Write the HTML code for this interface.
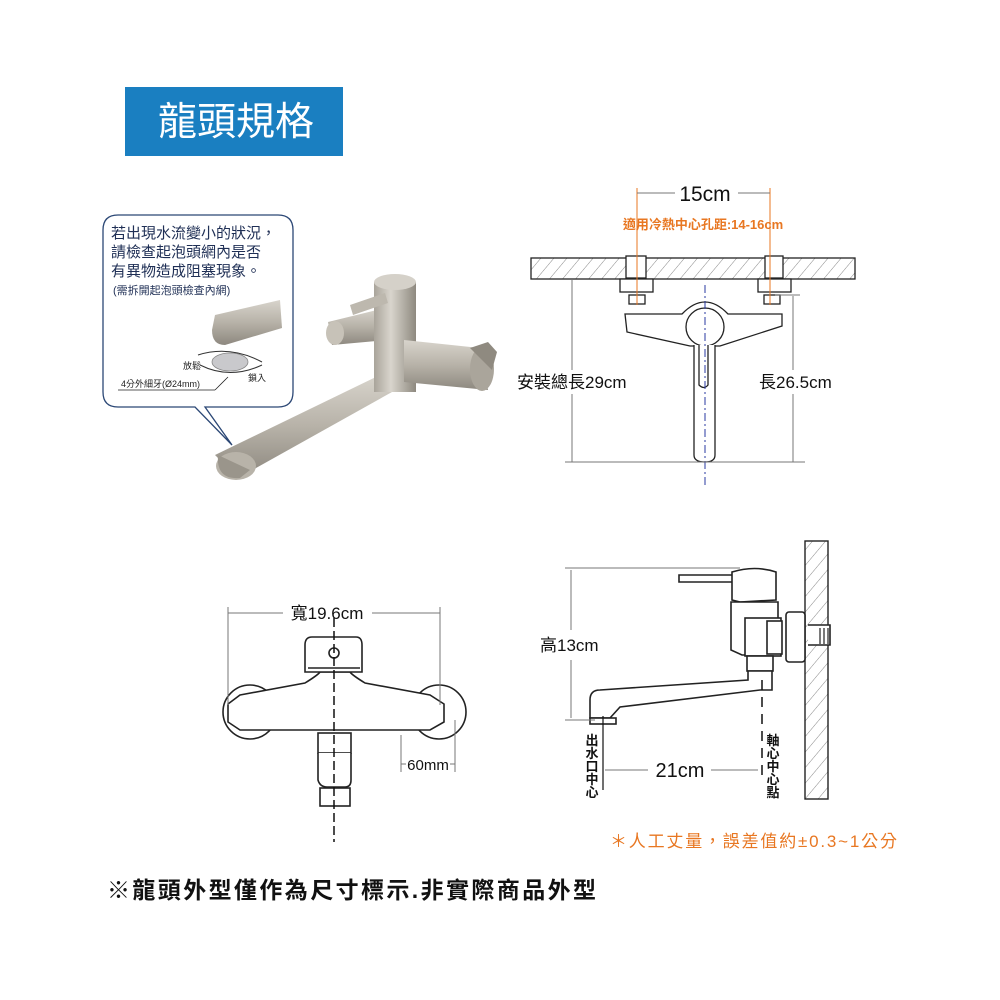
<!DOCTYPE html>
<html><head><meta charset="utf-8"><style>
html,body{margin:0;padding:0;background:#fff;}
svg{display:block;}
text{font-family:"Liberation Sans","Noto Sans CJK TC",sans-serif;}
</style></head><body>
<svg width="1000" height="1000" viewBox="0 0 1000 1000" xmlns="http://www.w3.org/2000/svg">
<defs>
<pattern id="h" width="10" height="10" patternUnits="userSpaceOnUse" patternTransform="rotate(40)">
<line x1="0" y1="0" x2="0" y2="10" stroke="#888" stroke-width="1"/></pattern>
<linearGradient id="m" x1="0" y1="0" x2="0" y2="1"><stop offset="0" stop-color="#d8d4cc"/><stop offset="0.5" stop-color="#b7b2a8"/><stop offset="1" stop-color="#8d887f"/></linearGradient>
<linearGradient id="mv" x1="0" y1="0" x2="1" y2="0"><stop offset="0" stop-color="#a9a49a"/><stop offset="0.4" stop-color="#d9d5cd"/><stop offset="1" stop-color="#8e897f"/></linearGradient>
</defs>
<rect x="125" y="87" width="218" height="69" fill="#1a7fc1"/>
<text x="236" y="135" font-size="39" fill="#fff" text-anchor="middle">龍頭規格</text>

<path d="M215 455 L380 375 L392 392 L238 478 Z" fill="url(#m)"/>
<ellipse cx="236" cy="466" rx="20" ry="14" fill="#b8b3a9"/>
<path d="M218 455 Q216 480 240 478 L250 470 Z" fill="#9a958b"/>
<path d="M328 322 L385 308 L388 340 L332 345 Z" fill="url(#m)"/>
<ellipse cx="335" cy="333" rx="9" ry="12" fill="#c7c2b8"/>
<rect x="374" y="282" width="42" height="110" fill="url(#mv)"/>
<ellipse cx="395" cy="282" rx="21" ry="8" fill="#d5d1c9"/>
<path d="M350 305 L385 293 L388 303 L353 315 Z" fill="#bdb8ae"/>
<path d="M404 340 L480 348 L488 390 L404 382 Z" fill="url(#m)"/>
<ellipse cx="482" cy="369" rx="12" ry="22" fill="#aaa59b"/>
<path d="M470 348 L488 342 L497 352 L492 370 Z" fill="#8f8a80"/>

<path d="M118 215 H278 Q293 215 293 230 V392 Q293 407 278 407 H205 L232 445 L195 407 H118 Q103 407 103 392 V230 Q103 215 118 215 Z" fill="#fff" stroke="#2b4775" stroke-width="1.3"/>
<text x="111" y="238" font-size="15" fill="#1f2f55">若出現水流變小的狀況，</text>
<text x="111" y="257" font-size="15" fill="#1f2f55">請檢查起泡頭網內是否</text>
<text x="111" y="276" font-size="15" fill="#1f2f55">有異物造成阻塞現象。</text>
<text x="113" y="294" font-size="11" fill="#1f2f55">(需拆開起泡頭檢查內網)</text>
<path d="M215 315 L280 300 L282 328 L225 345 Q212 345 212 330 Z" fill="url(#m)"/>
<ellipse cx="230" cy="362" rx="18" ry="9" fill="#c9c9cc" stroke="#888" stroke-width="0.8"/>
<path d="M198 355 Q230 345 262 362" fill="none" stroke="#333" stroke-width="1"/>
<path d="M200 365 Q230 380 262 365" fill="none" stroke="#333" stroke-width="1"/>
<text x="183" y="369" font-size="9" fill="#222">放鬆</text>
<text x="248" y="381" font-size="9" fill="#222">鎖入</text>
<text x="121" y="387" font-size="9" fill="#222">4分外細牙(Ø24mm)</text>
<line x1="118" y1="390" x2="215" y2="390" stroke="#222" stroke-width="0.8"/>
<line x1="215" y1="390" x2="228" y2="377" stroke="#222" stroke-width="0.8"/>

<g stroke="#222" fill="none" stroke-width="1.3">
<rect x="531" y="258" width="324" height="21" fill="url(#h)"/>
<rect x="626" y="256" width="20" height="22" fill="#fff"/>
<rect x="765" y="256" width="18" height="22" fill="#fff"/>
<rect x="620" y="279" width="33" height="13" fill="#fff"/>
<rect x="758" y="279" width="33" height="13" fill="#fff"/>
<rect x="629" y="295" width="16" height="9" fill="#fff"/>
<rect x="764" y="295" width="16" height="9" fill="#fff"/>
<path d="M625 314 H682 Q705 290 728 314 H782 V326 L720 346 H690 L627 332 Z" fill="#fff"/>
<circle cx="705" cy="327" r="19" fill="#fff"/>
<path d="M694 345 V455 Q694 462 705 462 Q715 462 715 455 V345" fill="#fff"/>
<path d="M699 345 V385 Q704 390 708 385 V345"/>
</g>
<line x1="637" y1="188" x2="637" y2="305" stroke="#e87722" stroke-width="1"/>
<line x1="770" y1="188" x2="770" y2="305" stroke="#e87722" stroke-width="1"/>
<line x1="637" y1="193" x2="675" y2="193" stroke="#777"/>
<line x1="738" y1="193" x2="770" y2="193" stroke="#777"/>
<text x="705" y="201" font-size="21" fill="#111" text-anchor="middle">15cm</text>
<text x="703" y="229" font-size="13" fill="#e87722" text-anchor="middle" font-weight="bold">適用冷熱中心孔距:14-16cm</text>
<line x1="705" y1="285" x2="705" y2="485" stroke="#2838a0" stroke-dasharray="8,3,2,3"/>
<line x1="572" y1="280" x2="572" y2="462" stroke="#777"/>
<line x1="565" y1="462" x2="805" y2="462" stroke="#777"/>
<line x1="793" y1="296" x2="793" y2="462" stroke="#777"/>
<line x1="775" y1="295" x2="800" y2="295" stroke="#777"/>
<rect x="512" y="370" width="120" height="24" fill="#fff"/>
<text x="517" y="388" font-size="17" fill="#111">安裝總長29cm</text>
<rect x="756" y="370" width="76" height="24" fill="#fff"/>
<text x="759" y="388" font-size="17" fill="#111">長26.5cm</text>

<g stroke="#222" fill="#fff" stroke-width="1.6">
<circle cx="250" cy="712" r="27"/>
<circle cx="439" cy="712" r="27"/>
<path d="M240 695 L305 683 Q318 675 320 672 H350 Q352 675 365 683 L430 695 L444 704 L444 722 L430 730 L240 730 L228 722 L228 704 Z"/>
<path d="M305 672 V645 Q305 637 312 637 H356 Q362 637 362 645 V672 Z"/>
<line x1="308" y1="668" x2="360" y2="668"/>
<circle cx="334" cy="653" r="5"/>
<rect x="318" y="733" width="33" height="20"/>
<path d="M318 753 V780 Q320 787 327 787 H345 Q351 787 351 780 V753"/>
<rect x="320" y="788" width="30" height="18"/>
</g>
<line x1="334" y1="618" x2="334" y2="842" stroke="#111" stroke-width="1.5" stroke-dasharray="9,4"/>
<line x1="228" y1="607" x2="228" y2="705" stroke="#777"/>
<line x1="440" y1="607" x2="440" y2="705" stroke="#777"/>
<line x1="228" y1="613" x2="283" y2="613" stroke="#777"/>
<line x1="372" y1="613" x2="440" y2="613" stroke="#777"/>
<text x="327" y="619" font-size="17" fill="#111" text-anchor="middle">寬19.6cm</text>
<line x1="401" y1="735" x2="401" y2="772" stroke="#777"/>
<line x1="455" y1="720" x2="455" y2="772" stroke="#777"/>
<line x1="401" y1="764" x2="406" y2="764" stroke="#777"/>
<line x1="450" y1="764" x2="455" y2="764" stroke="#777"/>
<text x="428" y="770" font-size="15" fill="#111" text-anchor="middle">60mm</text>

<rect x="805" y="541" width="23" height="258" fill="url(#h)" stroke="#222" stroke-width="1.4"/>
<g stroke="#222" fill="#fff" stroke-width="1.6">
<rect x="786" y="612" width="19" height="50" rx="3"/>
<path d="M808 625 H830 V645 H808" />
<path d="M679 575 H733 V582 H679 Z"/>
<path d="M732 572 Q755 565 776 572 V600 L740 602 L732 600 Z"/>
<path d="M731 602 H778 V650 L760 655 H742 L731 650 Z"/>
<rect x="745" y="618" width="36" height="38"/>
<rect x="767" y="621" width="15" height="33"/>
<rect x="747" y="656" width="26" height="15"/>
<path d="M772 671 V690 L760 690 L620 707 L610 718 L590 718 V700 Q590 690 600 690 L748 680 L748 671 Z"/>
<rect x="590" y="718" width="26" height="6"/>
</g>
<g stroke="#222" stroke-width="1.2">
<line x1="820" y1="628" x2="820" y2="644"/><line x1="824" y1="628" x2="824" y2="644"/><line x1="828" y1="628" x2="828" y2="644"/>
</g>
<line x1="762" y1="680" x2="762" y2="782" stroke="#111" stroke-width="1.5" stroke-dasharray="10,7"/>
<line x1="603" y1="716" x2="603" y2="790" stroke="#111" stroke-width="1.2"/>
<line x1="565" y1="568" x2="740" y2="568" stroke="#777"/>
<line x1="565" y1="720" x2="595" y2="720" stroke="#777"/>
<line x1="571" y1="570" x2="571" y2="630" stroke="#777"/>
<line x1="571" y1="660" x2="571" y2="718" stroke="#777"/>
<text x="540" y="651" font-size="17" fill="#111">高13cm</text>
<line x1="605" y1="770" x2="648" y2="770" stroke="#777"/>
<line x1="711" y1="770" x2="758" y2="770" stroke="#777"/>
<text x="680" y="777" font-size="20" fill="#111" text-anchor="middle">21cm</text>
<g font-size="13" fill="#111" text-anchor="middle" font-weight="bold">
<text x="592" y="745">出</text><text x="592" y="758">水</text><text x="592" y="771">口</text><text x="592" y="784">中</text><text x="592" y="797">心</text>
<text x="773" y="745">軸</text><text x="773" y="758">心</text><text x="773" y="771">中</text><text x="773" y="784">心</text><text x="773" y="797">點</text>
</g>
<text x="610" y="847" font-size="17" fill="#e87722" letter-spacing="1.8">＊人工丈量，誤差值約±0.3~1公分</text>
<text x="107" y="898" font-size="23" fill="#111" font-weight="bold" letter-spacing="2.4">※龍頭外型僅作為尺寸標示.非實際商品外型</text>
</svg>
</body></html>
